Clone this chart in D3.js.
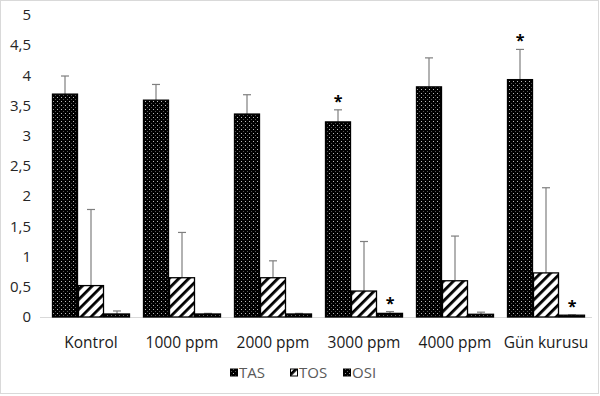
<!DOCTYPE html>
<html><head><meta charset="utf-8">
<script src="https://cdn.jsdelivr.net/npm/d3@7"></script>
<style>body{margin:0;background:#fff}svg{display:block}text{font-family:"Open Sans",sans-serif}</style>
</head><body>
<svg id="c" width="600" height="396"></svg>
<script>
const categories = ["Kontrol","1000 ppm","2000 ppm","3000 ppm","4000 ppm","Gün kurusu"];
const seriesNames = ["TAS","TOS","OSI"];
const tasValues = [3.69, 3.59, 3.36, 3.23, 3.81, 3.93];
const tasErrors = [0.30, 0.26, 0.32, 0.20, 0.48, 0.50];
const tosValues = [0.52, 0.65, 0.65, 0.43, 0.60, 0.73];
const tosErrors = [1.26, 0.75, 0.28, 0.82, 0.74, 1.41];
const osiValues = [0.05, 0.05, 0.05, 0.06, 0.045, 0.03];
const osiErrors = [0.05, 0.01, 0.01, 0.03, 0.035, 0.005];
const yTicks = [0,0.5,1,1.5,2,2.5,3,3.5,4,4.5,5];
const asterisks = [{cat:"3000 ppm", s:"TAS"},{cat:"3000 ppm", s:"OSI"},{cat:"Gün kurusu", s:"TAS"},{cat:"Gün kurusu", s:"OSI"}];

const svg = d3.select("#c");
svg.append("rect").attr("x",0.5).attr("y",0.5).attr("width",598).attr("height",393)
  .attr("fill","#fff").attr("stroke","#d9d9d9");

const defs = svg.append("defs");
const pd = defs.append("pattern").attr("id","dots").attr("patternUnits","userSpaceOnUse").attr("width",4).attr("height",4);
pd.append("rect").attr("width",4).attr("height",4).attr("fill","#000");
pd.append("rect").attr("x",1).attr("y",1).attr("width",1).attr("height",1).attr("fill","#bbb");
pd.append("rect").attr("x",3).attr("y",3).attr("width",1).attr("height",1).attr("fill","#555");
const pd2 = defs.append("pattern").attr("id","dots2").attr("patternUnits","userSpaceOnUse").attr("width",4).attr("height",4);
pd2.append("rect").attr("width",4).attr("height",4).attr("fill","#000");
pd2.append("rect").attr("x",1).attr("y",1).attr("width",1).attr("height",1).attr("fill","#999");
pd2.append("rect").attr("x",3).attr("y",3).attr("width",1).attr("height",1).attr("fill","#666");
const ps = defs.append("pattern").attr("id","stripes").attr("patternUnits","userSpaceOnUse")
  .attr("width",7).attr("height",7).attr("patternTransform","rotate(45)");
ps.append("rect").attr("width",7).attr("height",7).attr("fill","#fff");
ps.append("rect").attr("x",0).attr("y",0).attr("width",2.8).attr("height",7).attr("fill","#000");

const fills = {TAS:"url(#dots)", TOS:"url(#stripes)", OSI:"url(#dots2)"};

const x0 = d3.scaleBand().domain(categories).range([45.5,591.5]).paddingInner(13/91).paddingOuter(6.5/91);
const x1 = d3.scaleBand().domain(seriesNames).range([0,x0.bandwidth()]);
const y = d3.scaleLinear().domain([0,5]).range([317,15]);

svg.append("g").selectAll("text").data(yTicks).join("text")
  .attr("x",31).attr("y",d=>y(d)).attr("dy","0.35em").attr("text-anchor","end")
  .attr("font-size",15).attr("font-weight",500).attr("fill","#262626").text(d=>String(d).replace(".",","));

svg.append("line").attr("x1",40).attr("x2",592).attr("y1",y(0)+0.5).attr("y2",y(0)+0.5)
  .attr("stroke","#d9d9d9").attr("stroke-width",1);

const data = {TAS:[tasValues,tasErrors], TOS:[tosValues,tosErrors], OSI:[osiValues,osiErrors]};
const rows = [];
categories.forEach((c,i)=>seriesNames.forEach(s=>rows.push({c,s,v:data[s][0][i],e:data[s][1][i]})));

const g = svg.append("g");
g.selectAll("line.err").data(rows).join("line").attr("class","err")
  .attr("x1",d=>x0(d.c)+x1(d.s)+x1.bandwidth()/2).attr("x2",d=>x0(d.c)+x1(d.s)+x1.bandwidth()/2)
  .attr("y1",d=>y(d.v)).attr("y2",d=>y(d.v+d.e)).attr("stroke","#7f7f7f").attr("stroke-width",1.2);
g.selectAll("line.cap").data(rows).join("line").attr("class","cap")
  .attr("x1",d=>x0(d.c)+x1(d.s)+x1.bandwidth()/2-4).attr("x2",d=>x0(d.c)+x1(d.s)+x1.bandwidth()/2+4)
  .attr("y1",d=>y(d.v+d.e)).attr("y2",d=>y(d.v+d.e)).attr("stroke","#7f7f7f").attr("stroke-width",1.2);
g.selectAll("rect.bar").data(rows).join("rect").attr("class","bar")
  .attr("x",d=>x0(d.c)+x1(d.s)+0.5).attr("width",x1.bandwidth()-1)
  .attr("y",d=>y(d.v)).attr("height",d=>y(0)-y(d.v))
  .attr("fill",d=>fills[d.s]).attr("stroke","#000").attr("stroke-width",1.3);

g.selectAll("text.ast").data(asterisks).join("text").attr("class","ast")
  .attr("x",d=>x0(d.cat)+x1(d.s)+x1.bandwidth()/2)
  .attr("y",d=>{const i=categories.indexOf(d.cat);const v=data[d.s][0][i]+data[d.s][1][i];return y(v)-11;})
  .attr("text-anchor","middle").attr("font-size",16).attr("font-weight","bold").attr("fill","#000")
  .attr("dy","0.5em").text("*");

svg.append("g").selectAll("text").data(categories).join("text")
  .attr("x",d=>x0(d)+x0.bandwidth()/2).attr("y",343).attr("dy","0.35em").attr("text-anchor","middle")
  .attr("font-size",15.5).attr("font-weight",500).attr("fill","#1a1a1a").text(d=>d);

const legX = [230,290,343];
const lg = svg.append("g");
seriesNames.forEach((s,i)=>{
  lg.append("rect").attr("x",legX[i]+0.5).attr("y",369).attr("width",7).attr("height",7)
    .attr("fill",fills[s]).attr("stroke","#000").attr("stroke-width",1);
  lg.append("text").attr("x",legX[i]+9).attr("y",373).attr("dy","0.35em")
    .attr("font-size",15).attr("fill","#595959").text(s);
});
</script>
</body></html>
